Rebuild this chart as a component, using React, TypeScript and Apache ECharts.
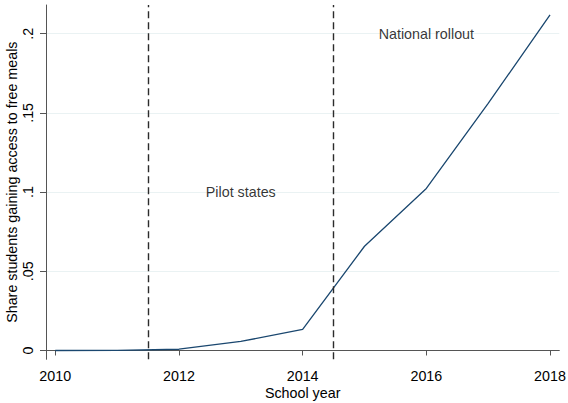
import { useEffect, useRef } from "react";
import * as echarts from "echarts";

const years = [2010, 2011, 2012, 2013, 2014, 2015, 2016, 2017, 2018];
const shares = [0, 0.0001, 0.0008, 0.0057, 0.0133, 0.0658, 0.1023, 0.156, 0.2118];
const xTicks = [2010, 2012, 2014, 2016, 2018];
const yTicks = [0, 0.05, 0.1, 0.15, 0.2];
const yTickLabels = ["0", ".05", ".1", ".15", ".2"];
const phaseBreaks = [2011.5, 2014.5];
const notes = [
  { x: 2013, y: 0.1, text: "Pilot states" },
  { x: 2016, y: 0.2, text: "National rollout" },
];

const FONT = "'Liberation Sans', Arial, Helvetica, sans-serif";
const FS = 14.3;

export default function App() {
  const chartRef = useRef<HTMLDivElement | null>(null);

  useEffect(() => {
    if (!chartRef.current) {
      return;
    }

    const chart = echarts.init(chartRef.current, undefined, { renderer: "svg" });
    chart.setOption({
      animation: false,
      backgroundColor: "#ffffff",
      textStyle: { fontFamily: FONT },
      grid: {
        left: 46,
        right: 8.7,
        top: 5,
        bottom: 43.7,
        containLabel: false,
        outerBoundsMode: "none",
      },
      xAxis: {
        type: "value",
        min: 2009.85,
        max: 2018.15,
        name: "School year",
        nameLocation: "middle",
        nameGap: 26.5,
        nameMoveOverlap: false,
        nameTextStyle: { color: "#000", fontSize: FS, fontFamily: FONT },
        axisLine: { lineStyle: { color: "#555", width: 1 } },
        axisTick: { show: true, length: 5, customValues: xTicks, lineStyle: { color: "#555" } },
        axisLabel: {
          customValues: xTicks,
          color: "#000",
          fontSize: FS,
          fontFamily: FONT,
          margin: 10,
          formatter: (v: number) => String(v),
        },
        splitLine: { show: false },
      },
      yAxis: {
        type: "value",
        min: -0.00556,
        max: 0.2181,
        name: "Share students gaining access to free meals",
        nameLocation: "middle",
        nameRotate: 90,
        nameGap: 27,
        nameMoveOverlap: false,
        nameTextStyle: { color: "#000", fontSize: FS, fontFamily: FONT },
        axisLine: { show: true, lineStyle: { color: "#555", width: 1 } },
        axisTick: { show: true, length: 6, customValues: yTicks, lineStyle: { color: "#555" } },
        axisLabel: {
          customValues: yTicks,
          rotate: 90,
          color: "#000",
          fontSize: FS,
          fontFamily: FONT,
          margin: 11,
          formatter: (v: number) => yTickLabels[yTicks.findIndex((t) => Math.abs(t - v) < 1e-9)] ?? "",
        },
        splitLine: { show: false },
      },
      series: [
        {
          type: "line",
          data: [],
          silent: true,
          z: 0,
          markLine: {
            silent: true,
            z: 0,
            symbol: "none",
            label: { show: false },
            lineStyle: { color: "#eaf2f3", width: 1.2, type: "solid" },
            data: yTicks.map((v) => ({ yAxis: v })),
          },
        },
        {
          type: "line",
          data: years.map((y, i) => [y, shares[i]]),
          showSymbol: false,
          symbol: "none",
          lineStyle: { color: "#1a476f", width: 1.3 },
          z: 3,
        },
        {
          type: "line",
          data: [],
          silent: true,
          z: 4,
          markLine: {
            silent: true,
            z: 4,
            symbol: "none",
            label: { show: false },
            lineStyle: { color: "#2b2b2b", width: 1.4, type: [7, 4] },
            data: phaseBreaks.map((v) => ({ xAxis: v })),
          },
        },
        {
          type: "scatter",
          symbolSize: 0,
          silent: true,
          z: 5,
          data: notes.map((n) => [n.x, n.y, n.text]),
          label: {
            show: true,
            position: "inside",
            color: "#000",
            fontSize: FS,
            fontFamily: FONT,
            formatter: (p: { value: [number, number, string] }) => p.value[2],
          },
        },
      ],
    });

    const handleResize = () => chart.resize();
    window.addEventListener("resize", handleResize);

    return () => {
      window.removeEventListener("resize", handleResize);
      chart.dispose();
    };
  }, []);

  return (
    <div
      ref={chartRef}
      style={{ position: "fixed", left: 0, top: 0, width: 568, height: 403 }}
    />
  );
}
